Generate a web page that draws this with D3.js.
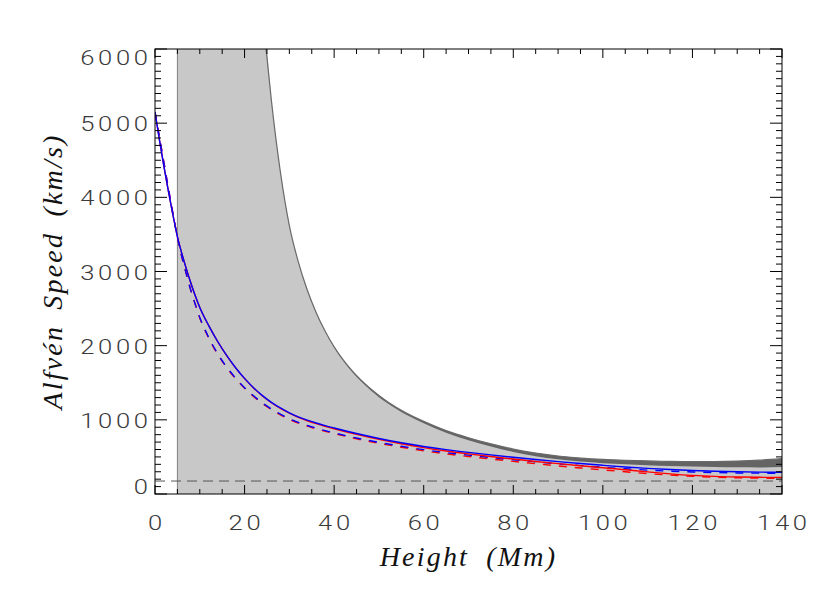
<!DOCTYPE html>
<html>
<head>
<meta charset="utf-8">
<script src="https://cdn.jsdelivr.net/npm/d3@7"></script>
<style>
  html, body { margin: 0; padding: 0; background: #fff; }
  svg { display: block; }
</style>
</head>
<body>
<svg id="chart" width="830" height="593"></svg>
<script>
// ---------- DATA ----------
const xTicks = [0, 20, 40, 60, 80, 100, 120, 140];
const yTicks = [0, 1000, 2000, 3000, 4000, 5000, 6000];
const xLabel = "Height (Mm)";
const yLabel = "Alfvén Speed (km/s)";
const refSpeed = 175;          // horizontal dashed reference
const shadeStart = 5;          // left edge of the shaded region

// common height grid (Mm) for the four model curves
const heights = [0, 1, 2, 3, 4, 5, 6, 7, 8, 9, 10, 12, 14, 16, 18, 20, 22, 24, 26, 28, 30, 32, 34, 36, 38, 40,
                 45, 50, 55, 60, 65, 70, 75, 80, 85, 90, 95, 100, 105, 110, 115, 120, 125, 130, 135, 140];
const blueSolid = [5150, 4770, 4415, 4080, 3765, 3470, 3240, 3035, 2845, 2672, 2516, 2271, 2056, 1868, 1703, 1559, 1434, 1326, 1236, 1160, 1095, 1041, 996, 957, 922, 890,
                   815, 749, 691, 641, 598, 561, 527, 495, 465, 437, 411, 387, 365, 346, 330, 317, 307, 300, 295, 293];
const redSolid  = [5150, 4770, 4415, 4080, 3765, 3470, 3240, 3035, 2845, 2671, 2515, 2270, 2054, 1866, 1700, 1556, 1430, 1321, 1231, 1154, 1089, 1034, 988, 948, 913, 880,
                   804, 736, 677, 625, 580, 541, 505, 471, 439, 409, 381, 354, 327, 298, 272, 251, 237, 229, 225, 223];
const blueDash  = [5150, 4810, 4465, 4120, 3785, 3462, 3195, 2965, 2745, 2555, 2381, 2111, 1891, 1713, 1563, 1434, 1324, 1228, 1146, 1076, 1015, 965, 924, 888, 855, 825,
                   755, 696, 644, 598, 558, 524, 492, 462, 434, 407, 383, 360, 340, 322, 308, 297, 289, 284, 281, 280];
const redDash   = [5150, 4810, 4465, 4120, 3785, 3462, 3195, 2965, 2745, 2555, 2373, 2103, 1883, 1705, 1555, 1426, 1316, 1220, 1138, 1068, 1007, 956, 915, 878, 845, 815,
                   744, 684, 631, 583, 541, 506, 472, 440, 409, 379, 351, 325, 300, 275, 255, 239, 227, 219, 214, 212];

// upper edge of the shaded region and inner edge of its dark band
const bandX  = [24.8, 26, 28, 30, 32, 34, 36, 38, 40, 44, 48, 52, 56, 60, 65, 70, 75, 80, 85, 90, 95, 100, 105, 110, 115, 120, 125, 130, 135, 140];
const outerV = [6000, 5300, 4340, 3620, 3130, 2750, 2445, 2195, 1985, 1662, 1425, 1240, 1095, 980, 855, 758, 676, 605, 552, 512, 485, 467, 455, 446, 440, 437, 438, 444, 456, 476];
const innerV = [6000, 5298, 4337, 3616, 3125, 2744, 2438, 2186, 1973, 1647, 1407, 1219, 1071, 953, 825, 725, 640, 566, 510, 467, 437, 416, 401, 388, 378, 370, 364, 360, 358, 364];

// ---------- LAYOUT ----------
const svg = d3.select("#chart");
const L = 155, R = 782, T = 49, B = 494;
const x = d3.scaleLinear().domain([0, 140]).range([L, R]);
const y = d3.scaleLinear().domain([0, 6000]).range([B, T]);

const zip = (xs, vs) => xs.map((d, i) => ({ x: d, v: vs[i] }));

svg.append("defs").append("clipPath").attr("id", "plotclip")
  .append("rect").attr("x", L).attr("y", T).attr("width", R - L).attr("height", B - T);

const g = svg.append("g").attr("clip-path", "url(#plotclip)");

// light shaded region
const outer = zip(bandX, outerV);
const shade = [{ x: shadeStart, v: 6000 }].concat(outer);
g.append("path")
  .datum(shade)
  .attr("fill", "#c8c8c8")
  .attr("d", d3.area().x(d => x(d.x)).y0(y(0) + 2).y1(d => y(d.v)).curve(d3.curveMonotoneX));

// dark band between inner & outer
const band = bandX.map((d, i) => ({ x: d, v1: outerV[i], v0: innerV[i] }));
g.append("path")
  .datum(band)
  .attr("fill", "#646464")
  .attr("d", d3.area().x(d => x(d.x)).y0(d => y(d.v0)).y1(d => y(d.v1)).curve(d3.curveMonotoneX));
g.append("path")
  .datum(outer)
  .attr("fill", "none").attr("stroke", "#6a6a6a").attr("stroke-width", 1.2)
  .attr("d", d3.line().x(d => x(d.x)).y(d => y(d.v)).curve(d3.curveMonotoneX));

// left edge of shaded region
g.append("line")
  .attr("x1", x(shadeStart)).attr("x2", x(shadeStart))
  .attr("y1", T).attr("y2", B)
  .attr("stroke", "#808080").attr("stroke-width", 1);

// horizontal reference dashed line
g.append("line")
  .attr("x1", L).attr("x2", R)
  .attr("y1", y(refSpeed)).attr("y2", y(refSpeed))
  .attr("stroke", "#555").attr("stroke-width", 1)
  .attr("stroke-dasharray", "10,6");

const line = d3.line().x(d => x(d.x)).y(d => y(d.v)).curve(d3.curveMonotoneX);
function drawLine(vs, color, dash) {
  g.append("path")
    .datum(zip(heights, vs))
    .attr("fill", "none")
    .attr("stroke", color)
    .attr("stroke-width", 1.4)
    .attr("stroke-dasharray", dash || null)
    .attr("d", line);
}
drawLine(redDash, "#ff0000", "8,8");
drawLine(blueDash, "#0000ff", "8,8");
drawLine(redSolid, "#ff0000");
drawLine(blueSolid, "#0000ff");

// ---------- AXES ----------
const axisG = svg.append("g");
const xMinor = d3.range(0, 141, 5);
const yMinor = d3.range(0, 6001, 100);

function ticks(sel, data, major, orient) {
  data.forEach(v => {
    const isMajor = major.includes(v);
    if (orient === "bottom" || orient === "top") {
      const len = isMajor ? 9 : 5;
      const px = x(v);
      const y0 = orient === "bottom" ? B : T;
      const dir = orient === "bottom" ? -1 : 1;
      sel.append("line").attr("x1", px).attr("x2", px).attr("y1", y0).attr("y2", y0 + dir * len)
        .attr("stroke", "#000").attr("stroke-width", 1);
    } else {
      const len = isMajor ? 12 : 6;
      const py = y(v);
      const x0 = orient === "left" ? L : R;
      const dir = orient === "left" ? 1 : -1;
      sel.append("line").attr("x1", x0).attr("x2", x0 + dir * len).attr("y1", py).attr("y2", py)
        .attr("stroke", "#000").attr("stroke-width", 1);
    }
  });
}
ticks(axisG, xMinor, xTicks, "bottom");
ticks(axisG, xMinor, xTicks, "top");
ticks(axisG, yMinor, yTicks, "left");
ticks(axisG, yMinor, yTicks, "right");

axisG.append("rect").attr("x", L).attr("y", T).attr("width", R - L).attr("height", B - T)
  .attr("fill", "none").attr("stroke", "#000").attr("stroke-width", 1);

const tickFont = "Roboto, 'DejaVu Sans', sans-serif";
const LS = 3;
axisG.selectAll(".xl").data(xTicks).enter().append("text")
  .attr("transform", d => `translate(${x(d) + LS / 2 * 1.22},530) scale(1.22,1)`)
  .attr("text-anchor", "middle")
  .attr("font-family", tickFont).attr("font-weight", 300)
  .attr("font-size", 21).attr("letter-spacing", LS).attr("fill", "#3a3a3a")
  .text(d => d);

axisG.selectAll(".yl").data(yTicks).enter().append("text")
  .attr("transform", d => {
    let py = y(d);
    if (d === 0) py -= 8;
    if (d === 6000) py += 8;
    return `translate(${148 + LS * 1.22},${py + 8}) scale(1.22,1)`;
  })
  .attr("text-anchor", "end")
  .attr("font-family", tickFont).attr("font-weight", 300)
  .attr("font-size", 21).attr("letter-spacing", LS).attr("fill", "#3a3a3a")
  .text(d => d);

// axis titles
const titleFont = "'Liberation Serif', 'DejaVu Serif', serif";
svg.append("text")
  .attr("x", (L + R) / 2).attr("y", 566)
  .attr("text-anchor", "middle")
  .attr("font-family", titleFont).attr("font-style", "italic")
  .attr("font-size", 28).attr("letter-spacing", 2.2).attr("word-spacing", 8).attr("fill", "#111")
  .text(xLabel);

svg.append("text")
  .attr("transform", `translate(62,${(T + B) / 2}) rotate(-90)`)
  .attr("text-anchor", "middle")
  .attr("font-family", titleFont).attr("font-style", "italic")
  .attr("font-size", 28).attr("letter-spacing", 2.2).attr("word-spacing", 6).attr("fill", "#111")
  .text(yLabel);
</script>
</body>
</html>
